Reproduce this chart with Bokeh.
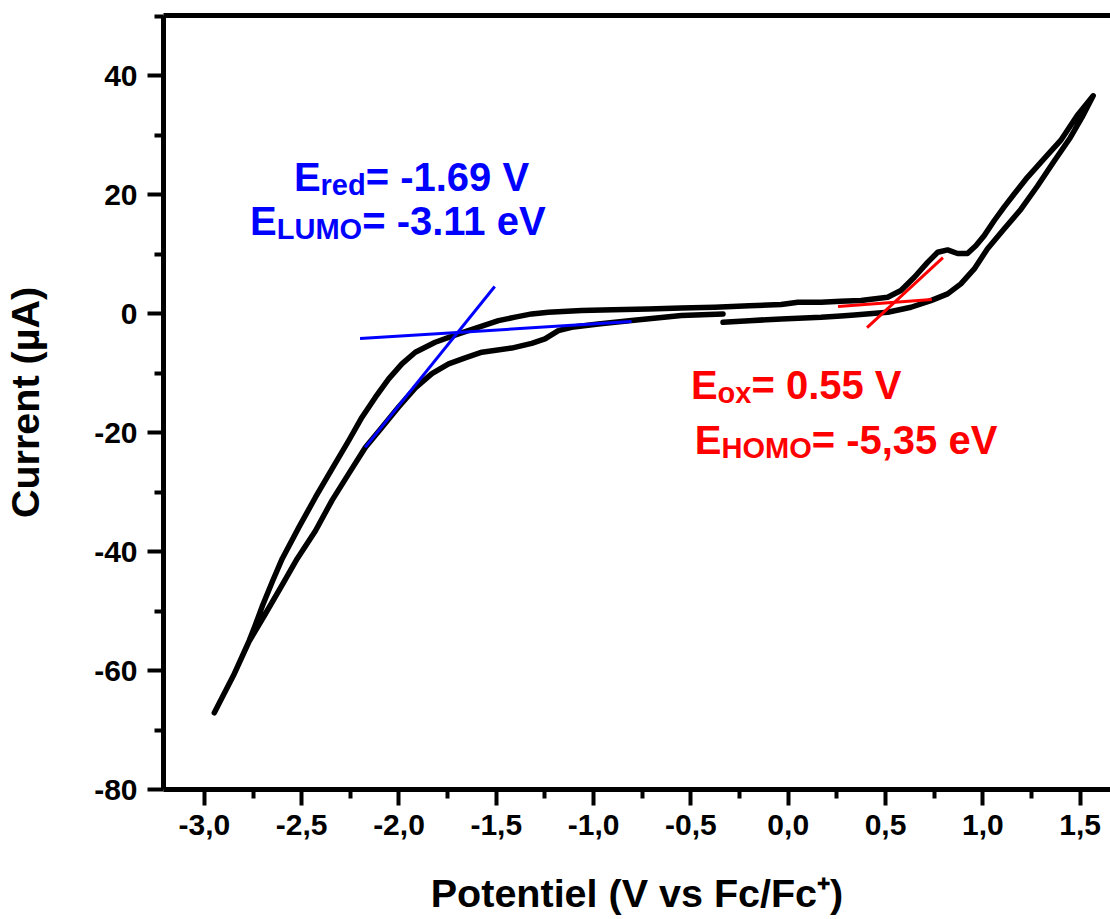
from bokeh.plotting import figure
from bokeh.models import LinearAxis, FixedTicker, Range1d
from bokeh.core.properties import value
from bokeh.embed import file_html
from bokeh.resources import INLINE

FONT = "Liberation Sans"

# ---- cyclic voltammogram ----
# forward scan: start at -0.33 V, towards +1.57 V (lower branch on the positive side)
fwd_potential = [-0.335, -0.2, -0.036, 0.169, 0.27, 0.34, 0.511, 0.631, 0.733, 0.819, 0.887,
                 0.956, 1.024, 1.109, 1.195, 1.28, 1.366, 1.45, 1.51, 1.567]
fwd_current = [-1.46, -1.2, -0.9, -0.62, -0.4, -0.25, 0.22, 1.06, 2.18, 3.3, 5.0,
               7.5, 10.9, 14.2, 17.5, 21.4, 25.6, 29.6, 33.0, 36.6]
# reverse scan: from +1.57 V down to -2.95 V (upper branch)
rev_potential = [1.485, 1.4, 1.314, 1.229, 1.161, 1.109, 1.058, 1.007, 0.964, 0.921, 0.870,
                 0.819, 0.768, 0.716, 0.648, 0.579, 0.511, 0.374, 0.27, 0.169, 0.05, -0.036,
                 -0.2, -0.378, -0.55, -0.719, -0.9, -1.062, -1.232, -1.318, -1.403, -1.489,
                 -1.574, -1.694, -1.814, -1.916, -1.985, -2.053, -2.121, -2.19, -2.258,
                 -2.344, -2.429, -2.514, -2.6, -2.65, -2.7, -2.74, -2.77, -2.85, -2.949]
rev_current = [33.3, 29.1, 26.0, 22.9, 20.1, 17.9, 15.6, 13.1, 11.4, 10.1, 10.1,
               10.7, 10.3, 8.6, 6.1, 3.87, 2.74, 2.18, 2.07, 1.9, 1.9, 1.51,
               1.3, 1.06, 0.95, 0.78, 0.65, 0.5, 0.22, -0.06, -0.6, -1.18,
               -2.1, -3.42, -4.82, -6.5, -8.46, -10.98, -14.06, -17.42, -21.34,
               -26.1, -30.87, -35.9, -41.2, -45.0, -49.0, -52.5, -55.0, -60.8, -67.1]
# return scan: from -2.95 V back to -0.33 V (lower branch on the negative side)
ret_potential = [-2.85, -2.77, -2.687, -2.6, -2.523, -2.429, -2.344, -2.258, -2.173, -2.087,
                 -2.002, -1.916, -1.831, -1.745, -1.66, -1.574, -1.421, -1.318, -1.25,
                 -1.181, -1.113, -0.976, -0.805, -0.549, -0.335]
ret_current = [-60.8, -55.1, -50.5, -45.6, -41.2, -36.5, -31.4, -26.9, -22.5, -19.1,
               -15.7, -12.5, -10.1, -8.46, -7.45, -6.5, -5.8, -5.0, -4.26,
               -2.86, -2.3, -1.74, -1.18, -0.34, -0.06]

# ---- onset tangents ----
red_tan_x0 = [-2.2, -2.174]
red_tan_y0 = [-4.2, -22.5]
red_tan_x1 = [-0.805, -1.508]
red_tan_y1 = [-1.35, 4.54]
ox_tan_x0 = [0.256, 0.405]
ox_tan_y0 = [1.18, -2.35]
ox_tan_x1 = [0.738, 0.795]
ox_tan_y1 = [2.35, 9.4]

# ---- annotations: (main, subscript, rest) and anchor (potential, current) ----
blue_texts = [("E", "red", "= -1.69 V"), ("E", "LUMO", "= -3.11 eV")]
blue_anchor_x = [-2.54, -2.765]
blue_anchor_y = [23.0, 15.5]
red_texts = [("E", "ox", "= 0.55 V"), ("E", "HOMO", "= -5,35 eV")]
red_anchor_x = [-0.5, -0.48]
red_anchor_y = [-12.0, -21.3]

# ---- axes ----
x_ticks = [-3.0, -2.5, -2.0, -1.5, -1.0, -0.5, 0.0, 0.5, 1.0, 1.5]
x_tick_labels = ["-3,0", "-2,5", "-2,0", "-1,5", "-1,0", "-0,5", "0,0", "0,5", "1,0", "1,5"]
x_minor = [-2.75, -2.25, -1.75, -1.25, -0.75, -0.25, 0.25, 0.75, 1.25]
y_ticks = [-80, -60, -40, -20, 0, 20, 40]
y_tick_labels = ["-80", "-60", "-40", "-20", "0", "20", "40"]
y_minor = [-70, -50, -30, -10, 10, 30, 50]

p = figure(width=1110, height=919,
           x_range=Range1d(-3.21, 1.656), y_range=Range1d(-80, 50.1),
           x_axis_location=None, y_axis_location=None,
           output_backend="svg", toolbar_location=None,
           min_border_left=161, min_border_right=0, min_border_top=15, min_border_bottom=130)
p.grid.visible = False
p.outline_line_color = None
p.background_fill_color = "white"
p.border_fill_color = "white"


def style(ax):
    ax.axis_line_width = 5
    ax.axis_line_color = "black"
    ax.major_tick_line_width = 4
    ax.minor_tick_line_width = 4
    ax.major_tick_in = 0
    ax.minor_tick_in = 0
    ax.major_tick_out = 16
    ax.minor_tick_out = 9
    ax.major_label_text_font = FONT
    ax.major_label_text_font_style = "bold"
    ax.major_label_text_font_size = "30px"
    ax.major_label_text_color = "black"
    ax.axis_label_text_font = FONT
    ax.axis_label_text_font_style = "bold"
    ax.axis_label_text_font_size = "39.5px"
    ax.axis_label_text_color = "black"


xaxis = LinearAxis(ticker=FixedTicker(ticks=x_ticks, minor_ticks=x_minor),
                   axis_label="Potentiel (V vs Fc/Fc\u207a)")
xaxis.major_label_overrides = {t: l for t, l in zip(x_ticks, x_tick_labels)}
style(xaxis)
xaxis.major_label_standoff = 9
xaxis.axis_label_standoff = 33
p.add_layout(xaxis, "below")

yaxis = LinearAxis(ticker=FixedTicker(ticks=y_ticks, minor_ticks=y_minor),
                   axis_label="Current (\u00b5A)")
yaxis.major_label_overrides = {t: l for t, l in zip(y_ticks, y_tick_labels)}
style(yaxis)
yaxis.major_label_standoff = 10
yaxis.axis_label_standoff = 44
p.add_layout(yaxis, "left")

top = LinearAxis(ticker=FixedTicker(ticks=[], minor_ticks=[]))
top.axis_line_width = 5
top.axis_line_color = "black"
top.major_tick_out = 0
top.minor_tick_out = 0
top.major_label_text_font_size = "0px"
p.add_layout(top, "above")

# ---- curve ----
potential = fwd_potential + rev_potential + ret_potential
current = fwd_current + rev_current + ret_current
p.line(potential, current, line_width=5.5, color="black", line_join="round", line_cap="round")

# ---- tangents ----
p.segment(x0=red_tan_x0, y0=red_tan_y0, x1=red_tan_x1, y1=red_tan_y1, color="#0000FF", line_width=3)
p.segment(x0=ox_tan_x0, y0=ox_tan_y0, x1=ox_tan_x1, y1=ox_tan_y1, color="#FF0000", line_width=3)

# ---- annotations with subscripts ----
WIDTHS = {"E": 667, "r": 389, "e": 556, "d": 611, "L": 611, "U": 722, "M": 833, "O": 778,
          "o": 611, "x": 556, "H": 722}
MAIN_SIZE = 40
SUB_SIZE = 29
SUB_DROP = 8


def width(s, size):
    return sum(WIDTHS.get(ch, 556) for ch in s) / 1000.0 * size


def annotate(texts, xs, ys, color):
    for (main, sub, rest), x0, y0 in zip(texts, xs, ys):
        off = 0.0
        p.text(x=[x0], y=[y0], text=[main], x_offset=off, y_offset=0,
               text_font=value(FONT), text_font_style="bold", text_font_size=f"{MAIN_SIZE}px",
               text_color=color, text_baseline="alphabetic", text_align="left")
        off += width(main, MAIN_SIZE)
        p.text(x=[x0], y=[y0], text=[sub], x_offset=off, y_offset=SUB_DROP,
               text_font=value(FONT), text_font_style="bold", text_font_size=f"{SUB_SIZE}px",
               text_color=color, text_baseline="alphabetic", text_align="left")
        off += width(sub, SUB_SIZE)
        p.text(x=[x0], y=[y0], text=[rest], x_offset=off, y_offset=0,
               text_font=value(FONT), text_font_style="bold", text_font_size=f"{MAIN_SIZE}px",
               text_color=color, text_baseline="alphabetic", text_align="left")


annotate(blue_texts, blue_anchor_x, blue_anchor_y, "#0000FF")
annotate(red_texts, red_anchor_x, red_anchor_y, "#FF0000")

open("out.html", "w").write(file_html(p, INLINE))
